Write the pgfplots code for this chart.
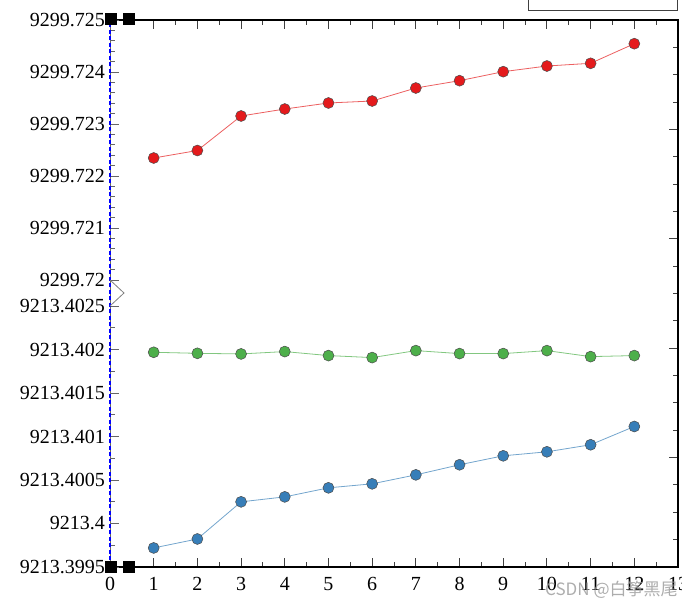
\documentclass[border=0pt]{standalone}
\usepackage{fontspec}
\setmainfont{Liberation Serif}
\newfontfamily\cjk{Noto Sans CJK SC}
\usepackage{pgfplots}
\pgfplotsset{compat=1.18}
\definecolor{cred}{HTML}{E41A1C}
\definecolor{cgreen}{HTML}{4DAF4A}
\definecolor{cblue}{HTML}{377EB8}
\makeatletter
% keep only the fractional part of a number of the form dddd.xxxx (pgf float 1Yd.dddxxxxe3])
\def\stripfloat@a#1Y#2.#3#4#5#6e#7]#8\relax{0.#60}
\def\stripint#1{%
  \pgfmathfloatparsenumber{#1}%
  \edef\pgfmathresult{\expandafter\stripfloat@a\pgfmathresult\relax}}
\makeatother
\newcommand{\tickfont}{\fontsize{20}{24}\selectfont}
\pgfplotsset{
  partaxis/.style={
    anchor=south west, scale only axis, width=568pt,
    xmin=0, xmax=13,
    y coord trafo/.code={\stripint{##1}},
    hide x axis,
    axis line style={draw=none},
    ytick pos=left, ytick align=inside,
    major tick length=9pt, minor tick length=5pt,
    tick style={line width=0.9pt, black!60},
    yticklabel style={font=\tickfont, inner sep=0pt, xshift=-5pt},
    clip=false,
  },
  ser/.style={line width=0.8pt, draw=#1!70!white, mark=*, mark size=5.5pt,
    mark options={draw=black!70, line width=0.5pt, fill=#1}},
}
\begin{document}
\begin{tikzpicture}[x=1pt,y=1pt]
\useasboundingbox (0pt,0pt) rectangle (682pt,609pt);
\clip (0pt,0pt) rectangle (682pt,609pt);
% frame axis
\begin{axis}[
  at={(110pt,42pt)}, anchor=south west, scale only axis,
  width=568pt, height=547pt,
  xmin=0, xmax=13, ymin=0, ymax=20,
  xtick={0,1,2,3,4,5,6,7,8,9,10,11,12,13},
  xticklabels={0,1,2,3,4,5,6,7,8,9,10,11,12,13},
  minor xtick={0.5,1.5,2.5,3.5,4.5,5.5,6.5,7.5,8.5,9.5,10.5,11.5,12.5},
  xtick pos=both, tick align=inside,
  ytick={0,4,8,12,16,20}, yticklabels={}, ytick pos=right,
  minor ytick={1,2,3,5,6,7,9,10,11,13,14,15,17,18,19},
  axis line style={line width=1.2pt, black},
  major tick length=9pt, minor tick length=5pt,
  tick style={line width=0.9pt, black!75},
  xticklabel style={font=\tickfont, inner sep=0pt, yshift=-10pt},
]
\end{axis}
% upper part
\begin{axis}[partaxis,
  at={(110pt,329pt)}, height=260pt,
  ymin=9299.72, ymax=9299.725,
  ytick={9299.72,9299.721,9299.722,9299.723,9299.724,9299.725},
  yticklabels={9299.72,9299.721,9299.722,9299.723,9299.724,9299.725},
  minor y tick num=4,
]
\addplot[ser=cred] coordinates {
(1,9299.722346) (2,9299.722490) (3,9299.723154) (4,9299.723288)
(5,9299.723404) (6,9299.723442) (7,9299.723692) (8,9299.723833)
(9,9299.724006) (10,9299.724115) (11,9299.724167) (12,9299.724544)};
\end{axis}
% lower part
\begin{axis}[partaxis,
  at={(110pt,42pt)}, height=261pt,
  ymin=9213.3995, ymax=9213.4025,
  ytick={9213.3995,9213.4,9213.4005,9213.401,9213.4015,9213.402,9213.4025},
  yticklabels={9213.3995,9213.4,9213.4005,9213.401,9213.4015,9213.402,9213.4025},
  minor y tick num=1,
]
\addplot[ser=cgreen] coordinates {
(1,9213.401968) (2,9213.401956) (3,9213.401949) (4,9213.401976)
(5,9213.401930) (6,9213.401907) (7,9213.401987) (8,9213.401953)
(9,9213.401953) (10,9213.401987) (11,9213.401918) (12,9213.401930)};
\addplot[ser=cblue] coordinates {
(1,9213.399719) (2,9213.399822) (3,9213.400249) (4,9213.400306)
(5,9213.400410) (6,9213.400456) (7,9213.400559) (8,9213.400675)
(9,9213.400778) (10,9213.400824) (11,9213.400905) (12,9213.401115)};
\end{axis}
% decorations
\fill[white] (109pt,42pt) rectangle (111.2pt,589pt);
\draw[black!60, line width=0.6pt] (110pt,42pt) -- (110pt,589pt);
\draw[blue, line width=2pt, dash pattern=on 4pt off 2.5pt] (110pt,42pt) -- (110pt,589pt);
\draw[gray, line width=0.8pt] (110pt,329pt) -- (124pt,316pt) -- (110pt,303pt);
\foreach \xx/\yy in {111/590, 129/590, 111/42, 129/42}
  \fill[black] (\xx pt-6pt,\yy pt-6pt) rectangle (\xx pt+6pt,\yy pt+6pt);
\draw[black!75, line width=0.9pt] (528pt,599pt) rectangle (677pt,620pt);
\node[anchor=west, text=black!40, opacity=0.8, font=\cjk\fontsize{17}{20}\selectfont, inner sep=0pt] at (545pt,19pt) {CSDN @白筝黑尾};
\end{tikzpicture}
\end{document}
